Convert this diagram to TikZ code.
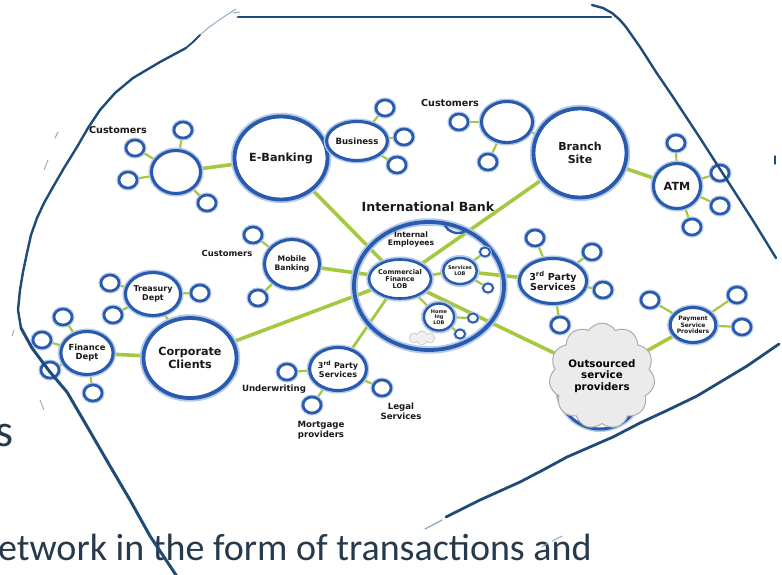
\documentclass[tikz,border=0pt]{standalone}
\usepackage{fontspec}
\setmainfont{Carlito}
\newfontfamily\labfont{DejaVu Sans}
\usetikzlibrary{shapes.geometric,shapes.symbols}

\definecolor{ringblue}{HTML}{2A5AAE}
\definecolor{ringglow}{HTML}{B4CAEA}
\definecolor{linkgreen}{HTML}{A4C83F}
\definecolor{edgeblue}{HTML}{1E4B78}
\definecolor{edgefaint}{HTML}{8DA6BF}
\definecolor{slate}{HTML}{263A4C}

\pgfdeclarelayer{paper}
\pgfdeclarelayer{links}
\pgfsetlayers{paper,links,main}

\tikzset{
  ringbase/.style={ellipse, draw=ringblue, fill=white, inner sep=0pt, align=center,
    text=black!90, font=\labfont\bfseries},
  bigring/.style={ringbase, line width=3.8pt, preaction={draw=ringglow, line width=7.5pt}},
  midring/.style={ringbase, line width=3.1pt, preaction={draw=ringglow, line width=6pt}},
  satring/.style={ringbase, line width=2.7pt, minimum width=18pt, minimum height=16pt,
    preaction={draw=ringglow, line width=5pt}},
  dotring/.style={ringbase, line width=1.8pt, minimum width=10pt, minimum height=9pt,
    preaction={draw=ringglow, line width=3.5pt}},
  fs/.style 2 args={font=\labfont\bfseries\fontsize{#1}{#2}\selectfont},
  lbl/.style={text=black!90, align=center, inner sep=0pt},
  link/.style={draw=linkgreen, line width=3.6pt},
  twig/.style={draw=linkgreen, line width=2.2pt},
  tear/.style={draw=edgeblue, line cap=round, line join=round},
  faint/.style={draw=edgefaint, line cap=round, line width=0.9pt},
}

\begin{document}
\begin{tikzpicture}[x=1pt, y=-1pt]
\begin{pgfonlayer}{paper}
  \fill[white] (0,0) rectangle (782,575);
\end{pgfonlayer}
\useasboundingbox (0,0) rectangle (782,575);

% slide text lying behind the torn cut-out
\node[anchor=base west, inner sep=0pt, text=slate, font=\fontsize{46}{46}\selectfont] (sfrag) at (-5,446) {s};
\node[anchor=base west, inner sep=0pt, text=slate, font=\fontsize{38}{38}\selectfont] (linefrag) at (-2,560) {etwork in the form of transactions and};

% ---- main hubs
\node[bigring, minimum width=93pt, minimum height=83pt, fs={11.2}{12}] (eb) at (281,158) {E-Banking};
\node[bigring, minimum width=93pt, minimum height=89pt, fs={11}{12.5}] (bs) at (580,153) {Branch\\Site};
\node[bigring, minimum width=93pt, minimum height=80pt, fs={11.2}{12.5}] (cc) at (190,358) {Corporate\\Clients};
\node[ellipse, draw=ringblue, line width=3.8pt, preaction={draw=ringglow, line width=7.5pt},
      minimum width=150pt, minimum height=128pt, inner sep=0pt] (bank) at (429,286) {};

% ---- secondary hubs
\node[midring, minimum width=49pt, minimum height=43pt] (cu1) at (176,172) {};
\node[midring, minimum width=47pt, minimum height=39pt, fs={8.6}{9.5}] (bus) at (357,141) {Business};
\node[midring, minimum width=51pt, minimum height=41pt] (cu2) at (507,122) {};
\node[midring, minimum width=47pt, minimum height=45pt, fs={11.2}{12}] (atm) at (677,186) {ATM};
\node[midring, minimum width=55pt, minimum height=49pt, fs={7.6}{8.6}] (mb) at (292,264) {Mobile\\Banking};
\node[midring, minimum width=47pt, minimum height=43pt, fs={8}{9}] (td) at (153,294) {Treasury\\Dept};
\node[midring, minimum width=47pt, minimum height=43pt, fs={8.4}{9.2}] (fd) at (87,353) {Finance\\Dept};
\node[midring, minimum width=53pt, minimum height=43pt, fs={8}{9}] (tpb) at (338,369) {3\textsuperscript{rd} Party\\Services};
\node[midring, minimum width=55pt, minimum height=45pt, fs={9.6}{10.5}] (tpr) at (553,281) {3\textsuperscript{rd} Party\\Services};
\node[midring, minimum width=43pt, minimum height=35pt, fs={6}{6.6}] (psp) at (693,325) {Payment\\Service\\Providers};

% ---- inside the bank
\node[midring, line width=2.6pt, minimum width=51pt, minimum height=39pt, fs={6.6}{7.2}] (cf) at (400,279) {Commercial\\Finance\\LOB};
\node[midring, line width=2.4pt, minimum width=28pt, minimum height=26pt, fs={5}{5.8}] (sl) at (460,271) {Services\\LOB};
\node[midring, line width=2.4pt, minimum width=30pt, minimum height=27pt, fs={5}{5.6}] (hl) at (439,317) {Home\\lng\\LOB};
\node[dotring] (d1) at (485,252) {};
\node[dotring] (d2) at (488,288) {};
\node[dotring] (d3) at (473,318) {};
\node[dotring] (d4) at (460,334) {};
\node[cloud, cloud puffs=8, draw=gray!45, fill=gray!12, line width=0.6pt,
      minimum width=26pt, minimum height=14pt, inner sep=0pt] (bcl) at (422,338) {};
\begin{scope}
  \clip (429,286) ellipse (73 and 62);
  \draw[ringblue, line width=2.4pt] (458,221) ellipse (14 and 12);
\end{scope}
\node[lbl, fs={7.6}{8}] (ie) at (411,239) {Internal\\Employees};

% ---- outsourced providers
\node[ellipse, draw=ringblue, fill=white, line width=3pt, preaction={draw=ringglow, line width=6pt},
      minimum width=84pt, minimum height=84pt] (osring) at (600,387) {};
\node[cloud, cloud puffs=11, cloud puff arc=115, draw=gray!65, fill=gray!16, line width=1pt,
      minimum width=98pt, minimum height=78pt, inner sep=0pt, align=center, fs={10.3}{11.5}]
      (os) at (602,376) {Outsourced\\service\\providers};

% ---- satellites
\node[satring] (cu1a) at (183,130) {};
\node[satring] (cu1b) at (135,148) {};
\node[satring] (cu1c) at (128,180) {};
\node[satring] (cu1d) at (207,203) {};
\node[satring] (busa) at (385,108) {};
\node[satring] (busb) at (404,137) {};
\node[satring] (busc) at (397,165) {};
\node[satring] (cu2a) at (459,122) {};
\node[satring] (cu2b) at (488,162) {};
\node[satring] (atma) at (676,143) {};
\node[satring] (atmb) at (720,173) {};
\node[satring] (atmc) at (720,206) {};
\node[satring] (atmd) at (692,227) {};
\node[satring] (mba) at (253,235) {};
\node[satring] (mbb) at (258,298) {};
\node[satring] (tda) at (110,283) {};
\node[satring] (tdb) at (200,293) {};
\node[satring] (tdc) at (113,315) {};
\node[satring] (fda) at (63,317) {};
\node[satring] (fdb) at (42,340) {};
\node[satring] (fdc) at (50,370) {};
\node[satring] (fdd) at (93,393) {};
\node[satring] (tpba) at (287,372) {};
\node[satring] (tpbb) at (312,405) {};
\node[satring] (tpbc) at (382,388) {};
\node[satring] (tpra) at (535,238) {};
\node[satring] (tprb) at (592,252) {};
\node[satring] (tprc) at (603,290) {};
\node[satring] (tprd) at (560,325) {};
\node[satring] (pspa) at (650,300) {};
\node[satring] (pspb) at (737,295) {};
\node[satring] (pspc) at (742,327) {};

% ---- free labels
\node[lbl, fs={9.6}{10}] (lc1) at (118,130) {Customers};
\node[lbl, fs={9.6}{10}] (lc2) at (450,103) {Customers};
\node[lbl, fs={8.4}{9}] (lc3) at (227,253) {Customers};
\node[lbl, fs={12.6}{13}] (lbank) at (428,207) {International Bank};
\node[lbl, fs={8.6}{9}] (luw) at (274,389) {Underwriting};
\node[lbl, fs={8.6}{9.6}] (lmp) at (321,430) {Mortgage\\providers};
\node[lbl, fs={8.6}{9.6}] (lls) at (401,411) {Legal\\Services};

% ---- connectors
\begin{pgfonlayer}{links}
  \draw[link] (cu1.center) -- (eb.center);
  \draw[link] (eb.center) -- (cf.center);
  \draw[link] (bs.center) -- (cf.center);
  \draw[link] (bs.center) -- (atm.center);
  \draw[link] (mb.center) -- (cf.center);
  \draw[link] (cc.center) -- (cf.center);
  \draw[link] (cc.center) -- (fd.center);
  \draw[link] (sl.center) -- (tpr.center);
  \draw[link] (cf.center) -- (os.center);
  \draw[link] (os.center) -- (psp.center);
  \draw[link, line width=2.8pt] (tpb.center) -- (cf.center);
  \draw[link, line width=2.8pt] (cf.center) -- (sl.center);
  \draw[twig] (cf.center) -- (hl.center);
  \draw[twig] (sl.center) -- (d1.center);
  \draw[twig] (sl.center) -- (d2.center);
  \draw[twig] (hl.center) -- (d3.center);
  \draw[twig] (hl.center) -- (d4.center);
  \draw[twig] (eb.center) -- (bus.center);
  \foreach \s in {busa,busb,busc} \draw[twig] (bus.center) -- (\s.center);
  \foreach \s in {cu1a,cu1b,cu1c,cu1d} \draw[twig] (cu1.center) -- (\s.center);
  \draw[twig] (cu2.center) -- (bs.center);
  \foreach \s in {cu2a,cu2b} \draw[twig] (cu2.center) -- (\s.center);
  \foreach \s in {atma,atmb,atmc,atmd} \draw[twig] (atm.center) -- (\s.center);
  \foreach \s in {mba,mbb} \draw[twig] (mb.center) -- (\s.center);
  \draw[twig] (td.center) -- (cc.center);
  \foreach \s in {tda,tdb,tdc} \draw[twig] (td.center) -- (\s.center);
  \foreach \s in {fda,fdb,fdc,fdd} \draw[twig] (fd.center) -- (\s.center);
  \foreach \s in {tpba,tpbb,tpbc} \draw[twig] (tpb.center) -- (\s.center);
  \foreach \s in {tpra,tprb,tprc,tprd} \draw[twig] (tpr.center) -- (\s.center);
  \foreach \s in {pspa,pspb,pspc} \draw[twig] (psp.center) -- (\s.center);
\end{pgfonlayer}

% ---- torn edges of the cut-out
\draw[tear, line width=2.6pt] (238,17) -- (611,17);
\draw[faint] (236,9) -- (222,18) -- (208,28) -- (200,35);
\draw[faint] (240,12) -- (233,13);
\draw[tear, line width=1.8pt] (200,35) -- (193,42) -- (186,48);
\draw[tear, line width=2.4pt] (186,48) -- (160,62) -- (133,78) -- (115,93) -- (100,110)
  -- (88,128) -- (77,147) -- (64,168) -- (53,187) -- (44,203) -- (37,218) -- (31,235)
  -- (27,253) -- (23,272) -- (20,290) -- (18,310) -- (21,328);
\draw[tear, line width=3pt] (21,328) -- (32,348) -- (50,372) -- (67,392) -- (88,428)
  -- (110,466) -- (130,500) -- (150,536) -- (178,578);
\draw[faint] (48,160) -- (44,170);
\draw[faint] (58,132) -- (55,138);
\draw[faint] (14,330) -- (12,336);
\draw[faint] (40,400) -- (44,410);
\draw[tear, line width=2.4pt] (592,5) -- (603,8) -- (612,13) -- (620,20) -- (626,27)
  -- (633,37) -- (640,47) -- (656,72) -- (673,97) -- (700,138) -- (727,180) -- (752,219) -- (776,258);
\draw[tear, line width=1.5pt] (775,156) -- (775,164);
\draw[tear, line width=2.8pt] (779,344) -- (747,366) -- (722,381) -- (697,396) -- (668,410)
  -- (640,423) -- (613,437) -- (590,447) -- (567,457) -- (543,470) -- (520,482) -- (480,500) -- (446,517);
\draw[faint, line width=1.2pt] (442,520) -- (425,529);
\draw[faint] (562,536) -- (552,541);
\draw[faint] (548,543) -- (542,547);
\end{tikzpicture}
\end{document}
